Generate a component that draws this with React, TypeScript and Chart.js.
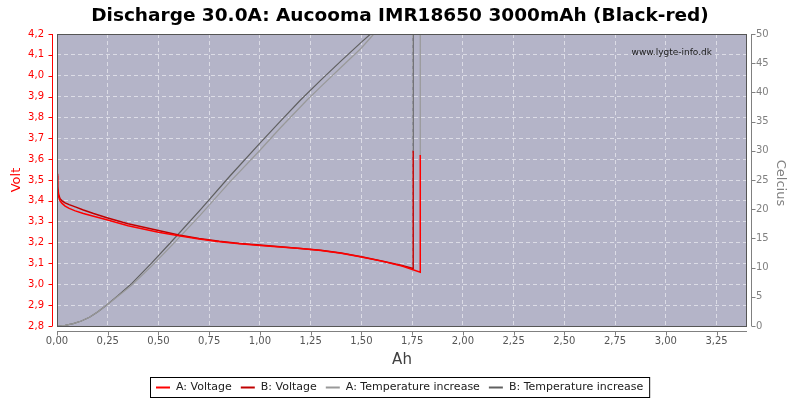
import React, { useEffect, useRef } from "react";
import { Chart, registerables } from "chart.js";

Chart.register(...registerables);

const TITLE = "Discharge 30.0A: Aucooma IMR18650 3000mAh (Black-red)";
const WATERMARK = "www.lygte-info.dk";
const X_TITLE = "Ah";
const Y_TITLE = "Volt";
const Y2_TITLE = "Celcius";

const xTicks = [0, 0.25, 0.5, 0.75, 1.0, 1.25, 1.5, 1.75, 2.0, 2.25, 2.5, 2.75, 3.0, 3.25];
const voltTicks = [2.8, 2.9, 3.0, 3.1, 3.2, 3.3, 3.4, 3.5, 3.6, 3.7, 3.8, 3.9, 4.0, 4.1, 4.2];
const tempTicks = [0, 5, 10, 15, 20, 25, 30, 35, 40, 45, 50];

const seriesLabels = ["A: Voltage", "B: Voltage", "A: Temperature increase", "B: Temperature increase"];
const seriesColors = ["#ff0000", "#c00000", "#999999", "#606060"];

const voltAAh = [0, 0.003, 0.008, 0.015, 0.025, 0.04, 0.06, 0.09, 0.13, 0.18, 0.25, 0.35, 0.5, 0.6, 0.7, 0.8, 0.9, 1.0, 1.1, 1.2, 1.3, 1.4, 1.5, 1.6, 1.7, 1.79, 1.79];
const voltA = [3.52, 3.46, 3.42, 3.4, 3.388, 3.375, 3.364, 3.352, 3.339, 3.326, 3.308, 3.281, 3.25, 3.233, 3.217, 3.204, 3.194, 3.186, 3.179, 3.171, 3.162, 3.149, 3.131, 3.111, 3.088, 3.058, 3.62];

const voltBAh = [0, 0.003, 0.008, 0.015, 0.025, 0.04, 0.06, 0.09, 0.13, 0.18, 0.25, 0.35, 0.5, 0.6, 0.7, 0.8, 0.9, 1.0, 1.1, 1.2, 1.3, 1.4, 1.5, 1.6, 1.7, 1.755, 1.755];
const voltB = [3.53, 3.47, 3.43, 3.41, 3.4, 3.39, 3.382, 3.371, 3.356, 3.339, 3.318, 3.29, 3.258, 3.236, 3.219, 3.206, 3.196, 3.188, 3.18, 3.172, 3.163, 3.15, 3.132, 3.112, 3.09, 3.076, 3.64];

const tempAAh = [0, 0.04, 0.08, 0.12, 0.16, 0.2, 0.245, 0.3, 0.369, 0.467, 0.568, 0.706, 0.85, 1.0, 1.1, 1.232, 1.3, 1.4, 1.5, 1.561, 1.68, 1.79, 1.79];
const tempA = [0, 0.1, 0.4, 0.85, 1.5, 2.4, 3.6, 5.1, 7.0, 10.3, 13.9, 19.0, 24.6, 30.1, 33.9, 38.7, 41.0, 44.3, 47.6, 50.0, 53.5, 56.5, 29];

const tempBAh = [0, 0.04, 0.08, 0.12, 0.16, 0.2, 0.245, 0.3, 0.369, 0.467, 0.568, 0.706, 0.85, 1.0, 1.1, 1.2, 1.3, 1.4, 1.5, 1.545, 1.65, 1.755, 1.755];
const tempB = [0, 0.1, 0.4, 0.85, 1.5, 2.4, 3.6, 5.2, 7.3, 10.8, 14.6, 19.9, 25.6, 31.3, 35.05, 38.7, 42.1, 45.4, 48.6, 50.0, 53.2, 56.3, 30];

const FONT = "'DejaVu Sans', sans-serif";

function zip(xs: number[], ys: number[]) {
  return xs.map((x, i) => ({ x, y: ys[i] }));
}

const decor = {
  id: "decor",
  beforeDraw(chart: any) {
    const { ctx, chartArea: a } = chart;
    ctx.save();
    ctx.fillStyle = "#ffffff";
    ctx.fillRect(0, 0, chart.width, chart.height);
    ctx.fillStyle = "#b4b4c8";
    ctx.fillRect(a.left, a.top, a.right - a.left, a.bottom - a.top);
    ctx.restore();
  },
  afterDraw(chart: any) {
    const { ctx, chartArea: a, scales } = chart;
    ctx.save();
    // plot border
    ctx.strokeStyle = "#555555";
    ctx.lineWidth = 1;
    ctx.strokeRect(a.left + 0.5, a.top + 0.5, a.right - a.left - 1, a.bottom - a.top);

    // left axis
    const lx = a.left - 4.5;
    ctx.strokeStyle = "#ff0000";
    ctx.beginPath();
    ctx.moveTo(lx, a.top);
    ctx.lineTo(lx, a.bottom);
    voltTicks.forEach((v) => {
      const y = Math.round(scales.y.getPixelForValue(v)) + 0.5;
      ctx.moveTo(lx - 4, y);
      ctx.lineTo(lx, y);
    });
    ctx.stroke();

    // right axis
    const rx = a.right + 4.5;
    ctx.strokeStyle = "#808080";
    ctx.beginPath();
    ctx.moveTo(rx, a.top);
    ctx.lineTo(rx, a.bottom);
    tempTicks.forEach((v) => {
      const y = Math.round(scales.y2.getPixelForValue(v)) + 0.5;
      ctx.moveTo(rx, y);
      ctx.lineTo(rx + 4, y);
    });
    ctx.stroke();

    // bottom axis
    const by = a.bottom + 5.5;
    ctx.strokeStyle = "#808080";
    ctx.beginPath();
    ctx.moveTo(a.left, by);
    ctx.lineTo(a.right, by);
    xTicks.forEach((v) => {
      const x = Math.round(scales.x.getPixelForValue(v)) + 0.5;
      ctx.moveTo(x, by);
      ctx.lineTo(x, by + 4);
    });
    ctx.stroke();

    // title
    ctx.fillStyle = "#000000";
    ctx.textAlign = "center";
    ctx.textBaseline = "middle";
    ctx.font = `bold 18.5px ${FONT}`;
    ctx.fillText(TITLE, 400, 16);

    // watermark
    ctx.font = `9px ${FONT}`;
    ctx.textAlign = "right";
    ctx.fillStyle = "#202020";
    ctx.fillText(WATERMARK, 712, 53);

    // x title
    ctx.textAlign = "center";
    ctx.font = `15px ${FONT}`;
    ctx.fillStyle = "#404040";
    ctx.fillText(X_TITLE, (a.left + a.right) / 2, 360);

    // y title
    const cy = (a.top + a.bottom) / 2;
    ctx.save();
    ctx.translate(17, cy);
    ctx.rotate(-Math.PI / 2);
    ctx.font = `13px ${FONT}`;
    ctx.fillStyle = "#ff0000";
    ctx.fillText(Y_TITLE, 0, 0);
    ctx.restore();

    ctx.save();
    ctx.translate(780, cy + 3);
    ctx.rotate(Math.PI / 2);
    ctx.font = `13px ${FONT}`;
    ctx.fillStyle = "#808080";
    ctx.fillText(Y2_TITLE, 0, 0);
    ctx.restore();

    // legend
    ctx.font = `11px ${FONT}`;
    const lineW = 14, gapT = 6, gapI = 9, pad = 6;
    const widths = seriesLabels.map((l) => ctx.measureText(l).width);
    const total = widths.reduce((s, w) => s + lineW + gapT + w, 0) + gapI * (seriesLabels.length - 1) + pad * 2;
    const left = Math.round(400 - total / 2);
    const top = 377, h = 20;
    ctx.strokeStyle = "#000000";
    ctx.lineWidth = 1;
    ctx.strokeRect(left + 0.5, top + 0.5, total, h);
    let x = left + pad;
    const my = top + h / 2 + 0.5;
    chart.data.datasets.forEach((ds: any, i: number) => {
      ctx.strokeStyle = ds.borderColor;
      ctx.lineWidth = 2;
      ctx.beginPath();
      ctx.moveTo(x, my);
      ctx.lineTo(x + lineW, my);
      ctx.stroke();
      x += lineW + gapT;
      ctx.fillStyle = "#202020";
      ctx.textAlign = "left";
      ctx.fillText(ds.label, x, my);
      x += widths[i] + gapI;
    });
    ctx.restore();
  },
};

export default function App() {
  const ref = useRef<HTMLCanvasElement | null>(null);
  useEffect(() => {
    if (!ref.current) return;
    const chart = new Chart(ref.current, {
      type: "line",
      data: {
        datasets: [
          { label: seriesLabels[0], data: zip(voltAAh, voltA), borderColor: seriesColors[0], borderWidth: 1.5, yAxisID: "y", pointRadius: 0, tension: 0, order: 0 },
          { label: seriesLabels[1], data: zip(voltBAh, voltB), borderColor: seriesColors[1], borderWidth: 1.5, yAxisID: "y", pointRadius: 0, tension: 0, order: 1 },
          { label: seriesLabels[2], data: zip(tempAAh, tempA), borderColor: seriesColors[2], borderWidth: 1.2, yAxisID: "y2", pointRadius: 0, tension: 0, order: 2 },
          { label: seriesLabels[3], data: zip(tempBAh, tempB), borderColor: seriesColors[3], borderWidth: 1.2, yAxisID: "y2", pointRadius: 0, tension: 0, order: 3 },
        ],
      },
      options: {
        responsive: false,
        animation: false,
        events: [],
        layout: { padding: { top: 34, left: 0, right: 0, bottom: 0 } },
        plugins: { legend: { display: false }, title: { display: false }, tooltip: { enabled: false } },
        scales: {
          x: {
            type: "linear",
            min: 0,
            max: 3.4,
            afterBuildTicks: (s: any) => { s.ticks = xTicks.map((v) => ({ value: v })); },
            afterFit: (s: any) => { s.height = 74; },
            grid: { color: "#dcdce6", drawTicks: false, lineWidth: 1 },
            border: { display: false, dash: [4, 3] },
            ticks: {
              padding: 9,
              color: "#555555",
              font: { family: FONT, size: 10 },
              maxRotation: 0,
              autoSkip: false,
              callback: (v: any) => Number(v).toFixed(2).replace(".", ","),
            },
          },
          y: {
            type: "linear",
            position: "left",
            min: 2.8,
            max: 4.2,
            afterBuildTicks: (s: any) => { s.ticks = voltTicks.map((v) => ({ value: v })); },
            afterFit: (s: any) => { s.width = 57; },
            grid: { color: "#dcdce6", drawTicks: false, lineWidth: 1 },
            border: { display: false, dash: [4, 3] },
            ticks: {
              padding: 13,
              color: "#ff0000",
              font: { family: FONT, size: 10 },
              autoSkip: false,
              callback: (v: any) => Number(v).toFixed(1).replace(".", ","),
            },
          },
          y2: {
            type: "linear",
            position: "right",
            min: 0,
            max: 50,
            afterBuildTicks: (s: any) => { s.ticks = tempTicks.map((v) => ({ value: v })); },
            afterFit: (s: any) => { s.width = 53; },
            grid: { display: false, drawTicks: false },
            border: { display: false },
            ticks: {
              padding: 9,
              color: "#808080",
              font: { family: FONT, size: 10 },
              autoSkip: false,
              callback: (v: any) => String(v),
            },
          },
        },
      },
      plugins: [decor],
    });
    return () => chart.destroy();
  }, []);
  return (
    <div style={{ position: "absolute", left: 0, top: 0, width: 800, height: 400 }}>
      <canvas ref={ref} width={800} height={400} style={{ display: "block", width: 800, height: 400 }} />
    </div>
  );
}
